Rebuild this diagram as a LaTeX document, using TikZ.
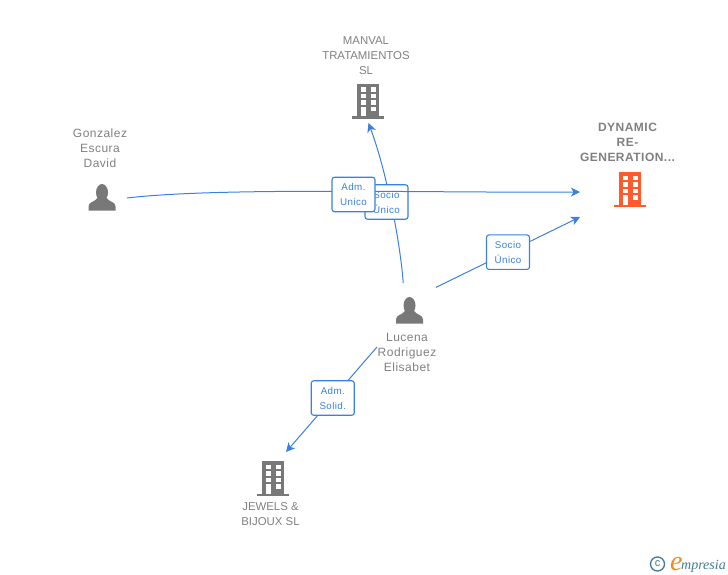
\documentclass[tikz,border=0pt]{standalone}
\usepackage{fontspec}
\setmainfont{Liberation Sans}
\newfontfamily\spaced[LetterSpace=4]{Liberation Sans}
\newfontfamily\logofont{Liberation Serif}
\usetikzlibrary{arrows.meta}
\definecolor{linkblue}{HTML}{3B80DE}
\definecolor{namegray}{HTML}{808080}
\definecolor{icongray}{HTML}{787878}
\definecolor{iconred}{HTML}{FF5A2B}
\definecolor{logoteal}{HTML}{3F7C93}
\definecolor{logoorange}{HTML}{F28A1E}
\tikzset{
 pics/building/.style={code={
  \fill [#1] (-11,-17) rectangle (11,15.5) ;
  \fill [#1] (-16,15.5) rectangle (16,18) ;
  \foreach \ytop in {-13.5,-7,-0.5} {
   \fill [white] (-7.5,\ytop) rectangle (-2.5,\ytop+4.5) ;
   \fill [white] (2.5,\ytop) rectangle (7.5,\ytop+4.5) ;
  }
  \fill [white] (-7.5,6) rectangle (-2.5,15.5) ;
  \fill [white] (2.5,6) rectangle (7.5,10.5) ;
 }},
 pics/person/.style={code={
  \fill [icongray] (0,-4.5) ellipse (6 and 8.5) ;
  \fill [icongray] (-13.5,13.5) -- (-13.5,9.5) .. controls (-13.5,4.5) and (-7,5) .. (-4.5,1) -- (4.5,1) .. controls (7,5) and (13.5,4.5) .. (13.5,9.5) -- (13.5,13.5) -- cycle ;
 }}
}
\begin{document}
\begin{tikzpicture}[x=1pt, y=-1pt]
 \tikzstyle{anchorbox} = [ rectangle, inner sep=0pt, outer sep=0pt ]
 \tikzstyle{caption} = [ text=namegray, align=center, inner sep=0pt, font=\fontsize{11.4}{15}\selectfont ]
 \tikzstyle{personcaption} = [ caption, font=\spaced\fontsize{12}{15}\selectfont ]
 \tikzstyle{tag} = [ rectangle, draw=linkblue, line width=1.1pt, fill=white, rounded corners=2.5pt, minimum width=43pt, minimum height=34.5pt, inner sep=0pt, align=center, text=linkblue, font=\spaced\fontsize{9.8}{15}\selectfont ]
 \tikzstyle{line} = [ draw=linkblue, line width=1pt, -{Stealth[length=9pt,width=9pt,inset=2.5pt]} ]
 \useasboundingbox (0,0) rectangle (728,575) ;
% place nodes
 \node [anchorbox, minimum width=30pt, minimum height=46pt] (manval) at (368.5,100) {} ;
 \node [anchorbox, minimum width=100pt, minimum height=50pt] (dynamic) at (630,192) {} ;
 \node [anchorbox, minimum width=50pt, minimum height=30pt] (gonzalez) at (102,198) {} ;
 \node [anchorbox, minimum width=54pt, minimum height=54pt] (lucena) at (409,310) {} ;
 \node [anchorbox, minimum width=26pt, minimum height=52pt] (jewels) at (273,478) {} ;
 \coordinate (lucena-foot) at (377,347) ;
 \pic at (368,101) {building=icongray} ;
 \pic at (630,189) {building=iconred} ;
 \pic at (273,478) {building=icongray} ;
 \pic at (102,197) {person} ;
 \pic at (409.5,310) {person} ;
 \node [caption] (manval-name) at (366,55.5) {MANVAL\\TRATAMIENTOS\\SL} ;
 \node [caption, font=\spaced\fontsize{12}{15}\selectfont\bfseries] (dynamic-name) at (627.5,142.5) {DYNAMIC\\RE-\\GENERATION...} ;
 \node [personcaption] (gonzalez-name) at (100,148.5) {Gonzalez\\Escura\\David} ;
 \node [personcaption] (lucena-name) at (407,352.5) {Lucena\\Rodriguez\\Elisabet} ;
 \node [caption] (jewels-name) at (270.5,514.5) {JEWELS \&\\BIJOUX SL} ;
% draw edges
 \path [line] (lucena.102.5) .. controls (400,240) and (386,170) .. (manval.south) ;
 \node [tag] (socio-1) at (386.5,202) {Socio\\Único} ;
 \path [line] (gonzalez.east) .. controls (220,187) and (430,193) .. (dynamic.west) ;
 \node [tag] (adm-1) at (353.5,194.5) {Adm.\\Unico} ;
 \path [line] (lucena.40.4) -- node [tag, pos=0.5] (socio-2) {Socio\\Único} (dynamic.south west) ;
 \path [line] (lucena-foot) -- node [tag, pos=0.486] (adm-2) {Adm.\\Solid.} (jewels.north east) ;
% logo
 \node [circle, draw=logoteal, line width=1.3pt, minimum size=14pt, inner sep=0pt, text=logoteal, font=\fontsize{11}{11}\selectfont] (logo-mark) at (657.5,564) {c} ;
 \node [inner sep=0pt, anchor=base west, font=\logofont\itshape\fontsize{28}{28}\selectfont, text=logoorange] (logo-e) at (670,570) {e} ;
 \node [inner sep=0pt, anchor=base west, font=\logofont\itshape\fontsize{14}{14}\selectfont, text=logoteal] (logo-text) at (681,569) {mpresia} ;
\end{tikzpicture}
\end{document}
